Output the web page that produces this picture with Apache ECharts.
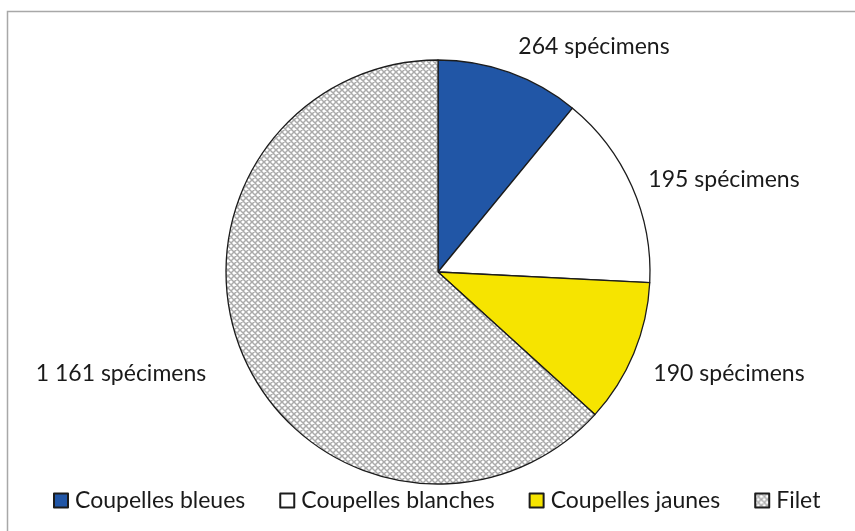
<!DOCTYPE html>
<html>
<head>
<meta charset="utf-8">
<script src="https://cdn.jsdelivr.net/npm/echarts@6/dist/echarts.min.js"></script>
<style>
    html, body { margin: 0; padding: 0; background: #fff; }
    #chart { width: 855px; height: 531px; }
</style>
</head>
<body>
<div id="chart"></div>
<script>
// categories and values
let categories = ['Coupelles bleues', 'Coupelles blanches', 'Coupelles jaunes', 'Filet'];
// slice sizes as drawn in the picture
let sliceValues = [198, 269, 198, 1145];
let sliceLabels = ['264 spécimens', '195 spécimens', '190 spécimens', '1 161 spécimens'];

// cross-hatch pattern for "Filet"
function makeHatch() {
    let c = document.createElement('canvas');
    c.width = 6;
    c.height = 6;
    let ctx = c.getContext('2d');
    ctx.fillStyle = '#ffffff';
    ctx.fillRect(0, 0, 6, 6);
    ctx.strokeStyle = '#aaaaaa';
    ctx.lineWidth = 1.5;
    ctx.beginPath();
    ctx.moveTo(-1, -1); ctx.lineTo(7, 7);
    ctx.moveTo(-1, 7); ctx.lineTo(7, -1);
    ctx.moveTo(-1, 5); ctx.lineTo(1, 7);
    ctx.moveTo(5, -1); ctx.lineTo(7, 1);
    ctx.moveTo(-1, 1); ctx.lineTo(1, -1);
    ctx.moveTo(5, 7); ctx.lineTo(7, 5);
    ctx.stroke();
    return c;
}

let colors = ['#2156a6', '#ffffff', '#f6e400', {image: makeHatch(), repeat: 'repeat'}];
// label anchor points (px)
let labelPos = [[594, 47], [724, 180], [729, 374], [121, 374]];

let data = categories.map(function (name, i) {
    return {
        name: name,
        value: sliceValues[i],
        itemStyle: {color: colors[i]}
    };
});

let chart = echarts.init(document.getElementById('chart'), null, {renderer: 'canvas'});
let option = {
    backgroundColor: '#fff',
    animation: false,
    graphic: [{
        type: 'rect',
        shape: {x: 7.5, y: 11.5, width: 900, height: 600},
        style: {fill: 'none', stroke: '#a8a8a8', lineWidth: 1.5}
    }],
    legend: {
        data: categories,
        left: 48,
        top: 484,
        icon: 'rect',
        itemWidth: 14,
        itemHeight: 14,
        itemGap: 34,
        textStyle: {
            fontFamily: 'Lato',
            fontSize: 23,
            color: '#1a1a1a',
            padding: [0, 0, 0, 2]
        }
    },
    series: [{
        type: 'pie',
        center: [438, 272],
        radius: 212,
        startAngle: 90,
        clockwise: true,
        data: data,
        itemStyle: {borderColor: '#1c1c1c', borderWidth: 1.3},
        label: {
            show: true,
            position: 'outside',
            formatter: function (p) {
                return sliceLabels[p.dataIndex];
            },
            fontFamily: 'Lato',
            fontSize: 23,
            color: '#1a1a1a'
        },
        labelLine: {show: false},
        labelLayout: function (params) {
            let p = labelPos[params.dataIndex];
            return {x: p[0], y: p[1], align: 'center', verticalAlign: 'middle'};
        },
        emphasis: {disabled: true}
    }]
};
chart.setOption(option);
</script>
</body>
</html>
